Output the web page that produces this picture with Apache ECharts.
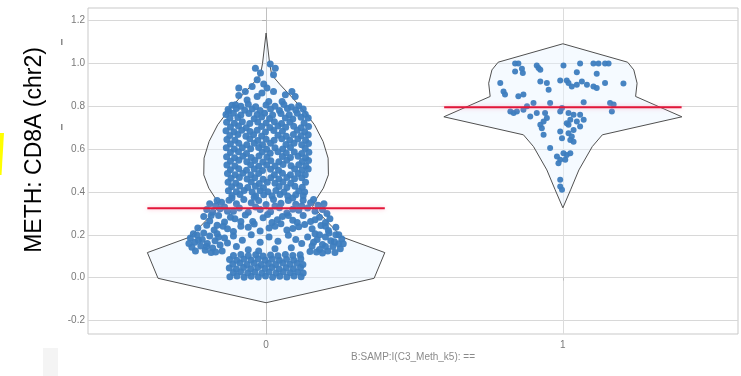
<!DOCTYPE html>
<html>
<head>
<meta charset="utf-8">
<script src="https://cdn.jsdelivr.net/npm/echarts@6/dist/echarts.min.js"></script>
<style>
  html, body { margin: 0; padding: 0; background: #ffffff; }
  #chart { width: 741px; height: 376px; }
</style>
</head>
<body>
<div id="chart"></div>
<script>
// Groups on the x axis and y tick values
const categories = ['0', '1'];
const yTicks = [-0.2, 0, 0.2, 0.4, 0.6, 0.8, 1.0, 1.2];
const xTicks = [0, 1];

// Group means (red bars)
const meanValues = [0.324, 0.796];

// Violin outlines: density half-widths (x units) at each level
const violinZeroLevels = [1.142, 1.0, 0.947, 0.900, 0.838, 0.776, 0.714, 0.636, 0.558, 0.480, 0.418, 0.371, 0.332, 0.190, 0.117, -0.003, -0.117];
const violinZeroHalfWidths = [0, 0.012, 0.019, 0.048, 0.090, 0.129, 0.163, 0.192, 0.209, 0.210, 0.193, 0.171, 0.157, 0.256, 0.400, 0.364, 0];
const violinOneLevels = [1.092, 1.006, 0.970, 0.908, 0.846, 0.751, 0.667, 0.612, 0.503, 0.410, 0.326];
const violinOneHalfWidths = [0, 0.218, 0.239, 0.250, 0.245, 0.401, 0.133, 0.099, 0.054, 0.026, 0];

// Samples of group 0: [horizontal jitter, value]
const pointsZero = [
  // upper tail
  [-0.036,0.978],[-0.019,0.955],[0.014,0.997],[0.031,0.978],[0.025,0.947],[-0.030,0.924],[-0.047,0.893],[-0.092,0.885],
  [-0.092,0.851],[-0.070,0.869],[-0.008,0.904],[0.003,0.885],[0.065,0.854],[0.087,0.869],[0.098,0.846],[-0.064,0.830],
  [-0.030,0.846],[-0.014,0.862],[0.025,0.869],[0.009,0.823],[0.054,0.823],[-0.103,0.807],[-0.126,0.776],
  // main body
  [-0.115,0.805],[-0.085,0.8],[-0.06,0.81],[-0.035,0.798],[0.0,0.806],[0.03,0.8],[0.06,0.808],[0.085,0.797],[0.11,0.803],
  [-0.128,0.785],[-0.1,0.79],[-0.072,0.782],[-0.047,0.788],[-0.02,0.78],[0.015,0.787],[0.045,0.781],[0.072,0.79],[0.1,0.783],[0.125,0.788],
  [-0.135,0.762],[-0.11,0.768],[-0.085,0.76],[-0.058,0.766],[-0.03,0.762],[-0.005,0.768],[0.022,0.76],[0.05,0.767],[0.078,0.761],[0.105,0.768],[0.132,0.763],
  [-0.122,0.744],[-0.095,0.748],[-0.04,0.742],[-0.015,0.75],[0.012,0.743],[0.065,0.746],[0.09,0.741],[0.118,0.749],[0.142,0.745],
  [-0.133,0.726],[-0.107,0.721],[-0.08,0.728],[-0.055,0.72],[-0.028,0.727],[0.0,0.722],[0.028,0.728],[0.052,0.72],[0.08,0.726],[0.128,0.722],
  [-0.12,0.704],[-0.093,0.708],[-0.067,0.7],[-0.015,0.706],[0.013,0.701],[0.04,0.708],[0.066,0.702],[0.093,0.707],[0.118,0.7],[0.143,0.706],
  [-0.135,0.686],[-0.108,0.681],[-0.082,0.688],[-0.054,0.682],[-0.03,0.688],[-0.002,0.68],[0.026,0.687],[0.055,0.683],[0.105,0.688],[0.13,0.681],
  [-0.122,0.664],[-0.095,0.668],[-0.068,0.66],[-0.042,0.667],[-0.015,0.661],[0.04,0.665],[0.068,0.66],[0.092,0.668],[0.118,0.662],[0.142,0.667],
  [-0.132,0.645],[-0.105,0.641],[-0.055,0.648],[-0.028,0.64],[0.0,0.646],[0.027,0.642],[0.053,0.648],[0.08,0.641],[0.107,0.647],[0.133,0.642],
  [-0.12,0.624],[-0.092,0.628],[-0.065,0.62],[-0.04,0.627],[-0.012,0.621],[0.015,0.628],[0.067,0.622],[0.094,0.627],[0.12,0.62],[0.143,0.626],
  [-0.134,0.606],[-0.107,0.601],[-0.08,0.607],[-0.052,0.602],[-0.025,0.608],[0.002,0.6],[0.03,0.607],[0.056,0.601],[0.082,0.608],[0.132,0.603],
  [-0.12,0.584],[-0.093,0.588],[-0.066,0.58],[-0.013,0.587],[0.014,0.581],[0.04,0.588],[0.068,0.582],[0.095,0.587],[0.12,0.58],[0.144,0.586],
  [-0.133,0.565],[-0.106,0.56],[-0.078,0.567],[-0.05,0.561],[-0.024,0.568],[0.003,0.562],[0.055,0.566],[0.082,0.561],[0.108,0.567],[0.133,0.56],
  [-0.12,0.544],[-0.092,0.548],[-0.065,0.541],[-0.038,0.547],[-0.011,0.54],[0.016,0.546],[0.043,0.541],[0.07,0.548],[0.122,0.542],[0.143,0.547],
  [-0.132,0.526],[-0.105,0.521],[-0.052,0.527],[-0.025,0.52],[0.002,0.526],[0.03,0.521],[0.057,0.528],[0.084,0.522],[0.11,0.527],[0.134,0.521],
  [-0.12,0.504],[-0.092,0.508],[-0.066,0.501],[-0.04,0.507],[-0.012,0.5],[0.015,0.506],[0.042,0.501],[0.096,0.507],[0.121,0.502],[0.142,0.507],
  [-0.13,0.486],[-0.104,0.481],[-0.078,0.487],[-0.051,0.48],[-0.025,0.486],[0.028,0.481],[0.055,0.487],[0.082,0.481],[0.108,0.486],[0.132,0.48],
  [-0.118,0.464],[-0.09,0.468],[-0.064,0.461],[-0.038,0.467],[-0.01,0.46],[0.016,0.466],[0.043,0.461],[0.07,0.468],[0.096,0.462],[0.12,0.467],
  [-0.128,0.446],[-0.102,0.441],[-0.05,0.447],[-0.023,0.44],[0.004,0.446],[0.03,0.441],[0.057,0.447],[0.083,0.441],[0.133,0.445],
  [-0.116,0.424],[-0.089,0.428],[-0.062,0.421],[-0.036,0.427],[-0.009,0.42],[0.044,0.426],[0.07,0.421],[0.097,0.427],[0.122,0.422],
  [-0.127,0.406],[-0.1,0.401],[-0.074,0.407],[-0.047,0.4],[-0.02,0.406],[0.006,0.401],[0.033,0.407],[0.06,0.4],[0.11,0.405],[0.13,0.4],
  [-0.115,0.384],[-0.088,0.388],[-0.035,0.381],[-0.008,0.387],[0.02,0.382],[0.047,0.388],[0.073,0.381],[0.1,0.387],[0.125,0.383],
  // middle band
  [-0.19,0.345],[-0.17,0.335],[-0.15,0.352],[-0.125,0.362],[-0.1,0.345],[-0.075,0.365],[-0.05,0.35],[-0.025,0.36],[0.0,0.342],[0.025,0.365],
  [0.05,0.348],[0.075,0.36],[0.1,0.343],[0.125,0.362],[0.15,0.35],[0.175,0.338],[0.195,0.345],[-0.115,0.372],[0.09,0.372],[-0.04,0.375],
  [-0.165,0.36],[-0.14,0.33],[-0.11,0.31],[-0.035,0.33],[0.03,0.335],[0.09,0.32],[0.12,0.335],[0.16,0.365],
  [-0.2,0.318],[-0.18,0.305],[-0.155,0.322],[-0.13,0.31],[-0.09,0.325],[-0.06,0.305],[-0.02,0.318],[0.015,0.308],[0.045,0.326],[0.07,0.302],
  [0.11,0.315],[0.14,0.325],[0.165,0.31],[0.19,0.318],[0.205,0.3],
  [-0.21,0.285],[-0.19,0.265],[-0.16,0.29],[-0.14,0.26],[-0.105,0.275],[-0.07,0.292],[-0.045,0.262],[-0.01,0.28],[0.02,0.258],[0.055,0.285],
  [0.09,0.268],[0.125,0.29],[0.15,0.262],[0.18,0.282],[0.2,0.258],[0.215,0.275],
  [-0.185,0.29],[-0.12,0.282],[-0.085,0.262],[0.005,0.295],[0.038,0.27],[0.075,0.29],[0.105,0.258],[0.165,0.27],
  [-0.23,0.232],[-0.2,0.245],[-0.175,0.222],[-0.145,0.24],[-0.11,0.215],[-0.06,0.235],[-0.02,0.218],[0.03,0.24],[0.07,0.222],[0.11,0.238],
  [0.155,0.228],[0.185,0.244],[0.21,0.22],[0.235,0.235],
  [-0.165,0.245],[-0.13,0.228],[-0.085,0.24],[-0.04,0.25],[0.01,0.232],[0.05,0.252],[0.09,0.23],[0.13,0.248],[0.2,0.24],
  // side wings
  [-0.255,0.185],[-0.24,0.165],[-0.25,0.142],[-0.232,0.198],[-0.22,0.148],[-0.215,0.178],[-0.205,0.128],[-0.198,0.16],[-0.19,0.195],[-0.18,0.138],
  [-0.172,0.172],[-0.165,0.205],[-0.155,0.152],[-0.148,0.125],[-0.14,0.185],[-0.13,0.162],[-0.238,0.125],[-0.26,0.16],[-0.21,0.208],[-0.185,0.118],
  [-0.245,0.205],[-0.228,0.175],[-0.2,0.145],[-0.17,0.12],[-0.16,0.19],
  [0.255,0.18],[0.245,0.158],[0.25,0.135],[0.235,0.2],[0.225,0.145],[0.218,0.172],[0.208,0.125],[0.2,0.19],[0.19,0.155],[0.18,0.132],
  [0.172,0.178],[0.165,0.205],[0.155,0.148],[0.148,0.122],[0.14,0.19],[0.232,0.118],[0.26,0.158],[0.212,0.208],[0.19,0.115],[0.16,0.165],
  [0.245,0.2],[0.23,0.168],[0.2,0.145],[0.17,0.12],[0.18,0.2],
  [-0.11,0.195],[-0.08,0.175],[-0.05,0.2],[-0.02,0.165],[0.01,0.19],[0.04,0.17],[0.075,0.198],[0.1,0.178],[0.12,0.16],[-0.1,0.145],
  [-0.06,0.13],[0.03,0.135],[0.085,0.14],[-0.025,0.125],
  // low block near zero
  [-0.122,0.004],[-0.098,0.008],[-0.074,0.002],[-0.05,0.007],[-0.026,0.003],[-0.002,0.008],[0.022,0.002],[0.046,0.007],[0.07,0.003],[0.094,0.008],[0.118,0.004],
  [-0.11,0.024],[-0.086,0.028],[-0.062,0.022],[-0.038,0.027],[-0.014,0.021],[0.01,0.026],[0.034,0.022],[0.058,0.028],[0.082,0.023],[0.106,0.027],[0.125,0.022],
  [-0.124,0.045],[-0.1,0.041],[-0.076,0.047],[-0.052,0.042],[-0.028,0.048],[-0.004,0.043],[0.02,0.047],[0.044,0.041],[0.068,0.046],[0.092,0.042],[0.116,0.048],
  [-0.112,0.064],[-0.088,0.068],[-0.064,0.062],[-0.04,0.067],[-0.016,0.061],[0.008,0.066],[0.032,0.062],[0.056,0.068],[0.08,0.063],[0.104,0.067],[0.124,0.062],
  [-0.123,0.085],[-0.099,0.081],[-0.075,0.087],[-0.051,0.082],[-0.027,0.088],[-0.003,0.083],[0.021,0.087],[0.045,0.081],[0.069,0.086],[0.093,0.082],[0.117,0.088],
  [-0.11,0.104],[-0.085,0.108],[-0.06,0.102],[-0.035,0.107],[-0.01,0.101],[0.015,0.106],[0.04,0.102],[0.065,0.108],[0.09,0.103],[0.115,0.107]
];

// Samples of group 1: [horizontal jitter, value]
const pointsOne = [
  [-0.161,1.0],[-0.150,1.0],[-0.088,0.99],[0.002,0.99],[0.058,1.0],[0.103,1.0],[0.120,1.0],[0.142,1.0],[0.154,1.0],
  [-0.161,0.963],[-0.135,0.956],[-0.082,0.979],[-0.076,0.971],[0.047,0.959],[0.114,0.952],[-0.138,0.975],
  [-0.211,0.909],[-0.076,0.916],[-0.009,0.921],[0.013,0.921],[0.019,0.909],[0.064,0.916],[0.081,0.901],[0.103,0.893],[0.142,0.909],[0.204,0.906],[-0.054,0.909],
  [-0.200,0.869],[-0.195,0.855],[-0.150,0.847],[-0.133,0.855],[-0.048,0.877],[0.030,0.893],[0.047,0.901],[0.114,0.885],
  [-0.099,0.815],[-0.043,0.815],[0.070,0.819],[0.159,0.815],[0.171,0.808],[-0.121,0.8],[-0.003,0.792],
  [-0.177,0.776],[-0.166,0.769],[-0.155,0.776],[-0.133,0.784],[-0.110,0.753],[-0.088,0.769],[-0.060,0.769],[-0.009,0.776],[0.019,0.769],
  [0.036,0.761],[0.058,0.761],[0.165,0.776],[-0.054,0.745],
  [-0.076,0.714],[-0.071,0.698],[-0.065,0.729],[0.013,0.721],[0.025,0.737],[0.047,0.729],[0.070,0.737],[0.058,0.706],[0.036,0.69],[-0.009,0.682],[0.019,0.714],
  [-0.065,0.667],[0.019,0.674],[0.030,0.659],[0.025,0.643],[0.036,0.635],[-0.003,0.651],
  [-0.043,0.605],[-0.020,0.566],[-0.009,0.55],[0.013,0.573],[0.002,0.581],[0.025,0.581],[-0.015,0.534],[0.008,0.55],
  [-0.009,0.457],[-0.009,0.426],[-0.003,0.41]
];

const violins = [
  { levels: violinZeroLevels, widths: violinZeroHalfWidths },
  { levels: violinOneLevels, widths: violinOneHalfWidths }
];
const meanHalfWidth = 0.4;

const chart = echarts.init(document.getElementById('chart'), null, { renderer: 'canvas' });

const labelStyle = { color: '#7a7a7a', fontSize: 10, fontFamily: 'Liberation Sans' };
const dotStyle = { color: '#3d7dbf', opacity: 0.95 };

chart.setOption({
  animation: false,
  backgroundColor: '#ffffff',
  textStyle: { fontFamily: 'Liberation Sans' },
  grid: {
    left: 88, top: 8, width: 650, height: 326,
    show: true, borderColor: '#c9c9c9', borderWidth: 1, backgroundColor: 'transparent'
  },
  xAxis: {
    type: 'value', min: -0.6, max: 1.59,
    axisLine: { show: false },
    axisTick: { show: true, customValues: xTicks, length: 3, lineStyle: { color: '#c0c0c0' } },
    axisLabel: Object.assign({ customValues: xTicks, margin: 6, formatter: v => categories[Math.round(v)] }, labelStyle),
    splitLine: { show: true, lineStyle: { color: '#dcdcdc', width: 1 } }
  },
  yAxis: {
    type: 'value', min: -0.263, max: 1.259,
    axisLine: { show: true, lineStyle: { color: '#c0c0c0' } },
    axisTick: { show: true, customValues: yTicks, length: 4, lineStyle: { color: '#b0b0b0' } },
    axisLabel: Object.assign({ customValues: yTicks, margin: 3, formatter: v => v.toFixed(1) }, labelStyle),
    splitLine: { show: true, lineStyle: { color: '#d8d8d8', width: 1 } }
  },
  graphic: [
    {
      type: 'text', x: 35, y: 150, rotation: Math.PI / 2,
      style: {
        text: 'METH: CD8A (chr2)', fill: '#000000',
        font: '23px "Liberation Sans"', textAlign: 'center', textVerticalAlign: 'middle'
      }
    },
    {
      type: 'text', x: 413, y: 357,
      style: {
        text: 'B:SAMP:I(C3_Meth_k5): ==', fill: '#8a8a8a',
        font: '10px "Liberation Sans"', textAlign: 'center', textVerticalAlign: 'middle'
      }
    },
    { type: 'polygon', shape: { points: [[0, 133], [4, 133], [1.5, 175], [0, 175]] }, style: { fill: '#ffff00' } },
    { type: 'rect', shape: { x: 43, y: 348, width: 15, height: 28 }, style: { fill: '#f4f4f4' } },
    { type: 'rect', shape: { x: 61, y: 39, width: 1.5, height: 6 }, style: { fill: '#8a8a8a' } },
    { type: 'rect', shape: { x: 61, y: 124, width: 1.5, height: 6 }, style: { fill: '#8a8a8a' } }
  ],
  series: [
    {
      // violin outlines
      type: 'custom', z: 2, clip: false, silent: true,
      data: [[0, meanValues[0]], [1, meanValues[1]]],
      renderItem(params, api) {
        const i = params.dataIndex;
        const v = violins[i];
        const right = v.levels.map((y, k) => api.coord([i + v.widths[k], y]));
        const left = v.levels.map((y, k) => api.coord([i - v.widths[k], y])).reverse();
        return {
          type: 'polygon',
          shape: { points: right.concat(left) },
          style: { fill: 'rgba(232,243,255,0.45)', stroke: '#505050', lineWidth: 1 }
        };
      }
    },
    {
      type: 'scatter', z: 3, silent: true,
      symbol: 'circle', symbolSize: 7,
      itemStyle: dotStyle,
      data: pointsZero.map(p => [0 + p[0], p[1]])
    },
    {
      type: 'scatter', z: 3, silent: true,
      symbol: 'circle', symbolSize: 6,
      itemStyle: dotStyle,
      data: pointsOne.map(p => [1 + p[0], p[1]])
    },
    {
      // group means
      type: 'custom', z: 4, clip: false, silent: true,
      data: [[0, meanValues[0]], [1, meanValues[1]]],
      renderItem(params, api) {
        const i = params.dataIndex;
        const a = api.coord([i - meanHalfWidth, meanValues[i]]);
        const b = api.coord([i + meanHalfWidth, meanValues[i]]);
        return {
          type: 'line',
          shape: { x1: a[0], y1: a[1], x2: b[0], y2: b[1] },
          style: { stroke: '#e3173a', lineWidth: 2, shadowColor: 'rgba(255,140,170,0.6)', shadowBlur: 4 }
        };
      }
    }
  ]
});
</script>
</body>
</html>
